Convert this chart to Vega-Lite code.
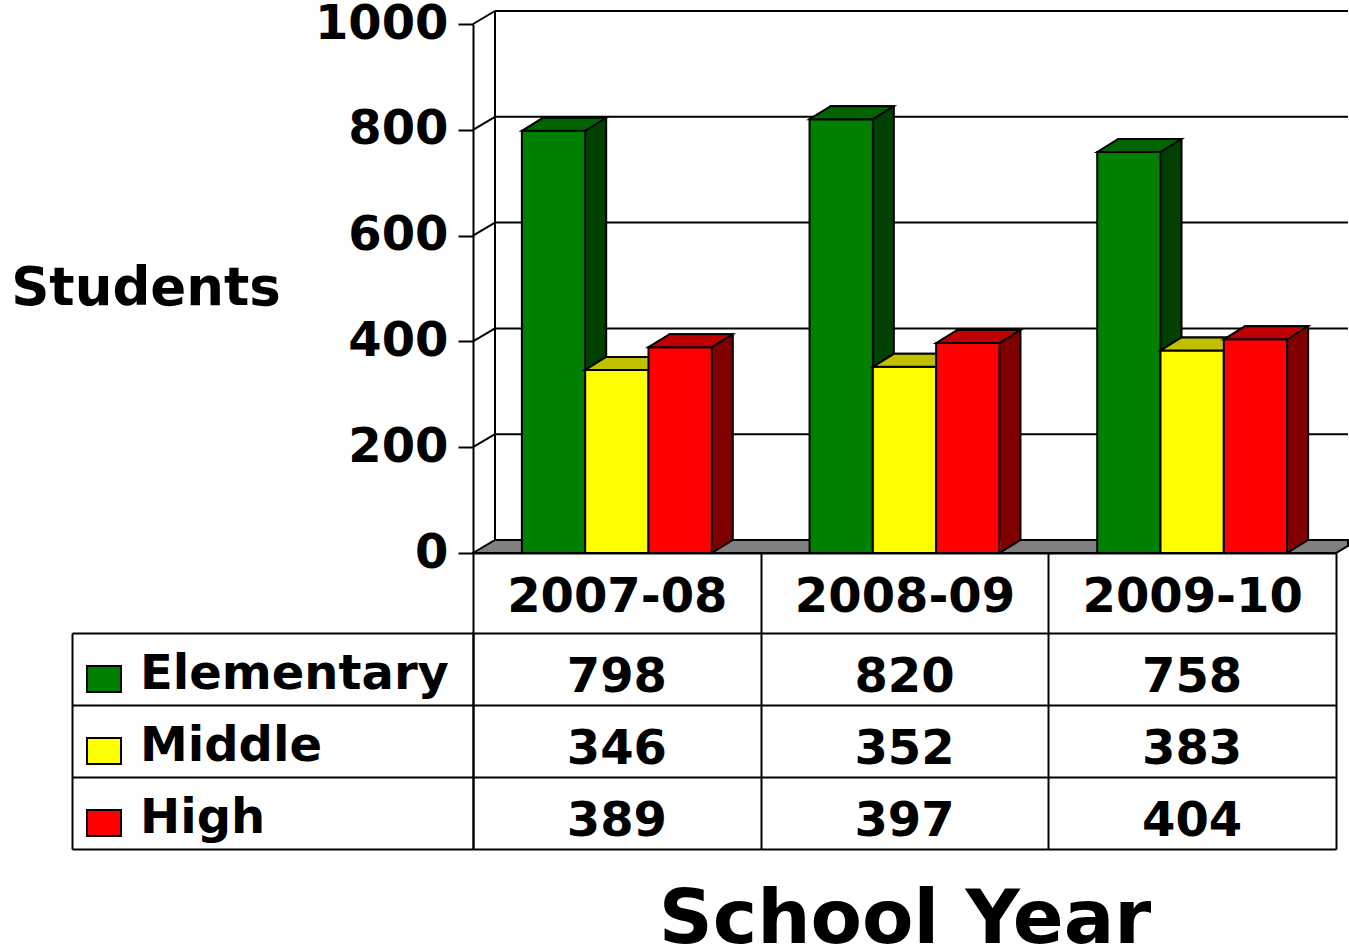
{
  "$schema": "https://vega.github.io/schema/vega-lite/v6.json",
  "background": "white",
  "padding": {"left": 10, "top": 0, "right": 0, "bottom": 0},
  "config": {"view": {"stroke": null}, "font": "DejaVu Sans"},
  "datasets": {
    "enrollment": [
      {"year": "2007-08", "level": "Elementary", "students": 798},
      {"year": "2007-08", "level": "Middle", "students": 346},
      {"year": "2007-08", "level": "High", "students": 389},
      {"year": "2008-09", "level": "Elementary", "students": 820},
      {"year": "2008-09", "level": "Middle", "students": 352},
      {"year": "2008-09", "level": "High", "students": 397},
      {"year": "2009-10", "level": "Elementary", "students": 758},
      {"year": "2009-10", "level": "Middle", "students": 383},
      {"year": "2009-10", "level": "High", "students": 404}
    ],
    "gridValues": [{"v": 200}, {"v": 400}, {"v": 600}, {"v": 800}, {"v": 1000}]
  },
  "bounds": "flush",
  "spacing": 80,
  "resolve": {"scale": {"fill": "independent"}, "legend": {"fill": "independent"}},
  "vconcat": [
    {
      "width": 863,
      "height": 529,
      "data": {"name": "enrollment"},
      "resolve": {"scale": {"xOffset": "independent"}},
      "layer": [
        {
          "data": {"values": [{}]},
          "mark": {"type": "point", "shape": "M-1,0L-0.949,-0.0301L1.0278,-0.0301L1.0278,-0.0164L1,0Z", "size": 744769, "filled": true, "fill": "#808080", "stroke": "black", "strokeWidth": 2, "opacity": 1},
          "encoding": {
            "y": {"datum": 0, "type": "quantitative", "title": "Students",
              "scale": {"domain": [0, 1000], "nice": false},
              "axis": {"orient": "left", "values": [0, 200, 400, 600, 800, 1000], "format": "d", "domain": true, "domainColor": "black", "domainWidth": 2, "ticks": true, "tickSize": 15, "tickColor": "black", "tickWidth": 2, "labelFont": "DejaVu Sans", "labelFontSize": 48, "labelFontWeight": "bold", "labelColor": "black", "labelPadding": 10, "labelLimit": 400, "labelOverlap": false, "grid": false, "title": "Students", "titleAngle": 0, "titleAlign": "right", "titleBaseline": "middle", "titleFont": "DejaVu Sans", "titleFontSize": 53, "titleFontWeight": "bold", "titleColor": "black", "titlePadding": 34}
            }
          }
        },
        {
          "data": {"name": "gridValues"},
          "mark": {"type": "rule", "color": "black", "strokeWidth": 2, "xOffset": 22, "x2Offset": 12, "yOffset": -13},
          "encoding": {
            "x": {"datum": "2007-08", "type": "nominal", "bandPosition": 0, "title": null,
              "scale": {"domain": ["2007-08", "2008-09", "2009-10"], "paddingInner": 0, "paddingOuter": 0},
              "axis": {"orient": "bottom", "domain": true, "domainColor": "black", "domainWidth": 2, "ticks": true, "tickBand": "extent", "tickSize": 80, "tickColor": "black", "tickWidth": 2, "labelFont": "DejaVu Sans", "labelFontSize": 48, "labelFontWeight": "bold", "labelColor": "black", "labelAngle": 0, "labelBaseline": "middle", "labelPadding": -36, "labelLimit": 400, "labelOverlap": false, "grid": false, "title": null}
            },
            "x2": {"datum": "2009-10", "bandPosition": 1},
            "y": {"field": "v", "type": "quantitative", "title": "Students"}
          }
        },
        {
          "data": {"name": "gridValues"},
          "mark": {"type": "rule", "color": "black", "strokeWidth": 2, "x2Offset": 22, "y2Offset": -13},
          "encoding": {
            "x": {"datum": "2007-08", "type": "nominal", "bandPosition": 0, "title": null},
            "x2": {"datum": "2007-08", "bandPosition": 0},
            "y": {"field": "v", "type": "quantitative", "title": "Students"},
            "y2": {"field": "v", "title": "Students"}
          }
        },
        {
          "data": {"values": [{}]},
          "mark": {"type": "rule", "color": "black", "strokeWidth": 2, "xOffset": 22, "yOffset": -13, "y2Offset": -13},
          "encoding": {
            "x": {"datum": "2007-08", "type": "nominal", "bandPosition": 0, "title": null},
            "y": {"datum": 0, "type": "quantitative", "title": "Students"},
            "y2": {"datum": 1000}
          }
        },

        {
          "transform": [{"filter": "datum.level === 'Elementary'"}],
          "mark": {"type": "bar", "fill": "#004000", "stroke": "black", "strokeWidth": 2, "yOffset": -13, "y2Offset": -13},
          "encoding": {
            "x": {"field": "year", "type": "nominal", "title": null},
            "xOffset": {"field": "level", "type": "nominal", "scale": {"type": "band", "domain": ["Elementary", "Middle", "High"], "paddingInner": 0, "paddingOuter": 0.772, "align": 0.715}},
            "y": {"field": "students", "type": "quantitative", "title": "Students"}
          }
        },
        {
          "transform": [{"filter": "datum.level === 'Elementary'"}],
          "mark": {"type": "bar", "fill": "#008000", "stroke": "black", "strokeWidth": 2},
          "encoding": {
            "x": {"field": "year", "type": "nominal", "title": null},
            "xOffset": {"field": "level", "type": "nominal", "scale": {"type": "band", "domain": ["Elementary", "Middle", "High"], "paddingInner": 0, "paddingOuter": 0.772}},
            "y": {"field": "students", "type": "quantitative", "title": "Students"}
          }
        },
        {
          "transform": [{"filter": "datum.level === 'Elementary'"}],
          "mark": {"type": "point", "shape": "M-1,0L-0.3366,-0.4107L1.6634,-0.4107L1,0Z", "size": 4008, "filled": true, "fill": "#006400", "stroke": "black", "strokeWidth": 2, "opacity": 1},
          "encoding": {
            "x": {"field": "year", "type": "nominal", "title": null},
            "xOffset": {"field": "level", "type": "nominal", "scale": {"type": "band", "domain": ["Elementary", "Middle", "High"], "paddingInner": 0, "paddingOuter": 0.772}},
            "y": {"field": "students", "type": "quantitative", "title": "Students"}
          }
        },
        {
          "transform": [{"filter": "datum.level === 'Elementary'"}],
          "mark": {"type": "point", "shape": "M1.032,-0.0198L1.633,-0.392L1.633,-0.5L1.032,-0.5Z", "size": 4008, "filled": true, "fill": "#004000", "strokeWidth": 0, "opacity": 1},
          "encoding": {
            "x": {"field": "year", "type": "nominal", "title": null},
            "xOffset": {"field": "level", "type": "nominal", "scale": {"type": "band", "domain": ["Elementary", "Middle", "High"], "paddingInner": 0, "paddingOuter": 0.772}},
            "y": {"datum": 0, "type": "quantitative", "title": "Students"}
          }
        },
        {
          "transform": [{"filter": "datum.level === 'Elementary'"}],
          "mark": {"type": "point", "shape": "M1,0L1.6634,-0.4107", "size": 4008, "filled": false, "stroke": "black", "strokeWidth": 2, "opacity": 1},
          "encoding": {
            "x": {"field": "year", "type": "nominal", "title": null},
            "xOffset": {"field": "level", "type": "nominal", "scale": {"type": "band", "domain": ["Elementary", "Middle", "High"], "paddingInner": 0, "paddingOuter": 0.772}},
            "y": {"datum": 0, "type": "quantitative", "title": "Students"}
          }
        },

        {
          "transform": [{"filter": "datum.level === 'Middle'"}],
          "mark": {"type": "bar", "fill": "#808000", "stroke": "black", "strokeWidth": 2, "yOffset": -13, "y2Offset": -13},
          "encoding": {
            "x": {"field": "year", "type": "nominal", "title": null},
            "xOffset": {"field": "level", "type": "nominal", "scale": {"type": "band", "domain": ["Elementary", "Middle", "High"], "paddingInner": 0, "paddingOuter": 0.772, "align": 0.715}},
            "y": {"field": "students", "type": "quantitative", "title": "Students"}
          }
        },
        {
          "transform": [{"filter": "datum.level === 'Middle'"}],
          "mark": {"type": "bar", "fill": "#ffff00", "stroke": "black", "strokeWidth": 2},
          "encoding": {
            "x": {"field": "year", "type": "nominal", "title": null},
            "xOffset": {"field": "level", "type": "nominal", "scale": {"type": "band", "domain": ["Elementary", "Middle", "High"], "paddingInner": 0, "paddingOuter": 0.772}},
            "y": {"field": "students", "type": "quantitative", "title": "Students"}
          }
        },
        {
          "transform": [{"filter": "datum.level === 'Middle'"}],
          "mark": {"type": "point", "shape": "M-1,0L-0.3366,-0.4107L1.6634,-0.4107L1,0Z", "size": 4008, "filled": true, "fill": "#c0c000", "stroke": "black", "strokeWidth": 2, "opacity": 1},
          "encoding": {
            "x": {"field": "year", "type": "nominal", "title": null},
            "xOffset": {"field": "level", "type": "nominal", "scale": {"type": "band", "domain": ["Elementary", "Middle", "High"], "paddingInner": 0, "paddingOuter": 0.772}},
            "y": {"field": "students", "type": "quantitative", "title": "Students"}
          }
        },
        {
          "transform": [{"filter": "datum.level === 'Middle'"}],
          "mark": {"type": "point", "shape": "M1.032,-0.0198L1.633,-0.392L1.633,-0.5L1.032,-0.5Z", "size": 4008, "filled": true, "fill": "#808000", "strokeWidth": 0, "opacity": 1},
          "encoding": {
            "x": {"field": "year", "type": "nominal", "title": null},
            "xOffset": {"field": "level", "type": "nominal", "scale": {"type": "band", "domain": ["Elementary", "Middle", "High"], "paddingInner": 0, "paddingOuter": 0.772}},
            "y": {"datum": 0, "type": "quantitative", "title": "Students"}
          }
        },
        {
          "transform": [{"filter": "datum.level === 'Middle'"}],
          "mark": {"type": "point", "shape": "M1,0L1.6634,-0.4107", "size": 4008, "filled": false, "stroke": "black", "strokeWidth": 2, "opacity": 1},
          "encoding": {
            "x": {"field": "year", "type": "nominal", "title": null},
            "xOffset": {"field": "level", "type": "nominal", "scale": {"type": "band", "domain": ["Elementary", "Middle", "High"], "paddingInner": 0, "paddingOuter": 0.772}},
            "y": {"datum": 0, "type": "quantitative", "title": "Students"}
          }
        },

        {
          "transform": [{"filter": "datum.level === 'High'"}],
          "mark": {"type": "bar", "fill": "#800000", "stroke": "black", "strokeWidth": 2, "yOffset": -13, "y2Offset": -13},
          "encoding": {
            "x": {"field": "year", "type": "nominal", "title": null},
            "xOffset": {"field": "level", "type": "nominal", "scale": {"type": "band", "domain": ["Elementary", "Middle", "High"], "paddingInner": 0, "paddingOuter": 0.772, "align": 0.715}},
            "y": {"field": "students", "type": "quantitative", "title": "Students"}
          }
        },
        {
          "transform": [{"filter": "datum.level === 'High'"}],
          "mark": {"type": "bar", "fill": "#ff0000", "stroke": "black", "strokeWidth": 2},
          "encoding": {
            "x": {"field": "year", "type": "nominal", "title": null},
            "xOffset": {"field": "level", "type": "nominal", "scale": {"type": "band", "domain": ["Elementary", "Middle", "High"], "paddingInner": 0, "paddingOuter": 0.772}},
            "y": {"field": "students", "type": "quantitative", "title": "Students"}
          }
        },
        {
          "transform": [{"filter": "datum.level === 'High'"}],
          "mark": {"type": "point", "shape": "M-1,0L-0.3366,-0.4107L1.6634,-0.4107L1,0Z", "size": 4008, "filled": true, "fill": "#c00000", "stroke": "black", "strokeWidth": 2, "opacity": 1},
          "encoding": {
            "x": {"field": "year", "type": "nominal", "title": null},
            "xOffset": {"field": "level", "type": "nominal", "scale": {"type": "band", "domain": ["Elementary", "Middle", "High"], "paddingInner": 0, "paddingOuter": 0.772}},
            "y": {"field": "students", "type": "quantitative", "title": "Students"}
          }
        },
        {
          "transform": [{"filter": "datum.level === 'High'"}],
          "mark": {"type": "point", "shape": "M1.032,-0.0198L1.633,-0.392L1.633,-0.5L1.032,-0.5Z", "size": 4008, "filled": true, "fill": "#800000", "strokeWidth": 0, "opacity": 1},
          "encoding": {
            "x": {"field": "year", "type": "nominal", "title": null},
            "xOffset": {"field": "level", "type": "nominal", "scale": {"type": "band", "domain": ["Elementary", "Middle", "High"], "paddingInner": 0, "paddingOuter": 0.772}},
            "y": {"datum": 0, "type": "quantitative", "title": "Students"}
          }
        },
        {
          "transform": [{"filter": "datum.level === 'High'"}],
          "mark": {"type": "point", "shape": "M1,0L1.6634,-0.4107", "size": 4008, "filled": false, "stroke": "black", "strokeWidth": 2, "opacity": 1},
          "encoding": {
            "x": {"field": "year", "type": "nominal", "title": null},
            "xOffset": {"field": "level", "type": "nominal", "scale": {"type": "band", "domain": ["Elementary", "Middle", "High"], "paddingInner": 0, "paddingOuter": 0.772}},
            "y": {"datum": 0, "type": "quantitative", "title": "Students"}
          }
        }
      ]
    },
    {
      "width": 863,
      "height": 216,
      "data": {"name": "enrollment"},
      "resolve": {"scale": {"y": "independent"}, "axis": {"y": "independent"}},
      "layer": [
        {
          "mark": {"type": "text", "font": "DejaVu Sans", "fontSize": 48, "fontWeight": "bold", "color": "black", "baseline": "middle", "dy": 9},
          "encoding": {
            "x": {"field": "year", "type": "nominal", "title": "School Year",
              "scale": {"domain": ["2007-08", "2008-09", "2009-10"], "paddingInner": 0, "paddingOuter": 0},
              "axis": {"orient": "bottom", "grid": true, "gridColor": "black", "gridWidth": 2, "gridOpacity": 1, "tickBand": "extent", "ticks": false, "labels": false, "domain": false, "title": "School Year", "titleFont": "DejaVu Sans", "titleFontSize": 75, "titleFontWeight": "bold", "titleColor": "black", "titlePadding": 34, "titleBaseline": "top"}
            },
            "y": {"field": "level", "type": "nominal", "title": null,
              "scale": {"domain": ["Elementary", "Middle", "High"], "paddingInner": 0, "paddingOuter": 0},
              "axis": {"orient": "left", "grid": true, "gridColor": "black", "gridWidth": 2, "gridOpacity": 1, "tickBand": "extent", "ticks": true, "tickSize": 401, "tickColor": "black", "tickWidth": 2, "labels": false, "domain": true, "domainColor": "black", "domainWidth": 2, "title": null}
            },
            "text": {"field": "students", "type": "quantitative"}
          }
        },
        {
          "mark": {"type": "point", "opacity": 0, "filled": true},
          "encoding": {
            "x": {"field": "year", "type": "nominal", "title": "School Year"},
            "y": {"field": "level", "type": "nominal", "title": null,
              "scale": {"domain": ["Elementary", "Middle", "High"], "paddingInner": 0, "paddingOuter": 0},
              "axis": {"orient": "left", "offset": 401, "domain": true, "domainColor": "black", "domainWidth": 2, "ticks": false, "labels": false, "grid": false, "title": null}
            },
            "fill": {"field": "level", "type": "nominal",
              "scale": {"domain": ["Elementary", "Middle", "High"], "range": ["#008000", "#ffff00", "#ff0000"]},
              "legend": {"orient": "left", "title": null, "direction": "vertical", "symbolType": "M-1,-0.53L1,-0.53L1,1L-1,1Z", "symbolSize": 1156, "symbolStrokeColor": "black", "symbolStrokeWidth": 2, "symbolOpacity": 1, "labelFont": "DejaVu Sans", "labelFontSize": 48, "labelFontWeight": "bold", "labelColor": "black", "labelOffset": 12, "labelLimit": 500, "rowPadding": 24, "padding": 18, "offset": -396}
            }
          }
        }
      ]
    }
  ]
}
